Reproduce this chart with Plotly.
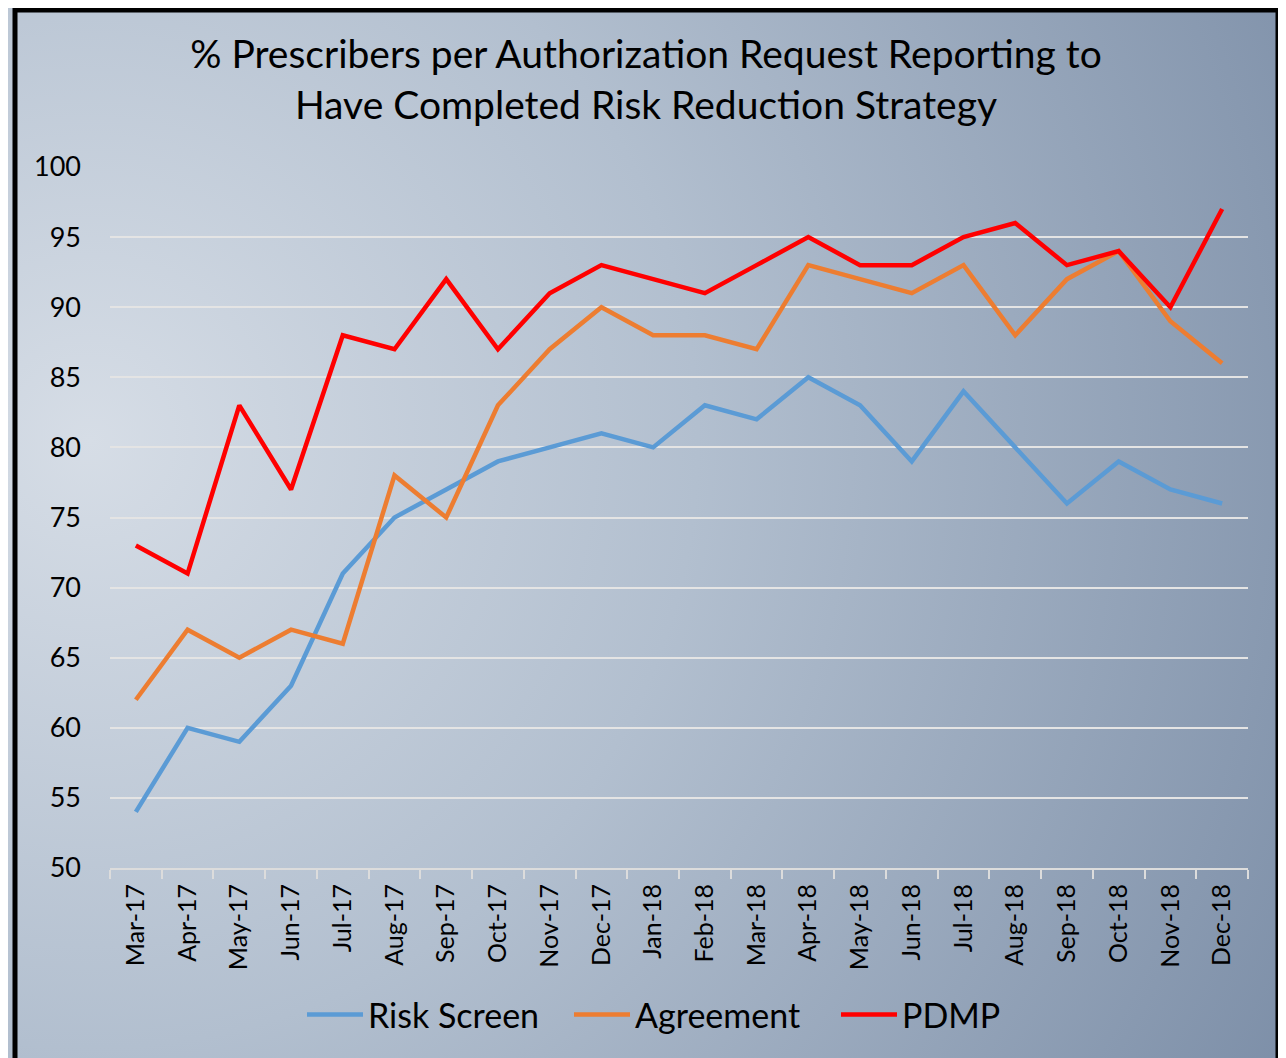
import base64
import plotly.graph_objects as go

months = ["Mar-17", "Apr-17", "May-17", "Jun-17", "Jul-17", "Aug-17", "Sep-17", "Oct-17",
          "Nov-17", "Dec-17", "Jan-18", "Feb-18", "Mar-18", "Apr-18", "May-18", "Jun-18",
          "Jul-18", "Aug-18", "Sep-18", "Oct-18", "Nov-18", "Dec-18"]
risk_screen = [54, 60, 59, 63, 71, 75, 77, 79, 80, 81, 80, 83, 82, 85, 83, 79, 84, 80, 76, 79, 77, 76]
agreement = [62, 67, 65, 67, 66, 78, 75, 83, 87, 90, 88, 88, 87, 93, 92, 91, 93, 88, 92, 94, 89, 86]
pdmp = [73, 71, 83, 77, 88, 87, 92, 87, 91, 93, 92, 91, 93, 95, 93, 93, 95, 96, 93, 94, 90, 97]
y_ticks = [50, 55, 60, 65, 70, 75, 80, 85, 90, 95, 100]

W, H = 1286, 1058
OFF = 8  # page body margin
# plot area in page pixels: x 110..1248, y 167..868
L = 110 - OFF
T = 167 - OFF
R = W - (1248 - OFF)
B = H - (868 - OFF)
pw, ph = W - L - R, H - T - B

FONT = "Lato"

fig = go.Figure()
series = [("Risk Screen", risk_screen, "#5B9BD5"),
          ("Agreement", agreement, "#ED7D31"),
          ("PDMP", pdmp, "#FF0000")]
for name, vals, col in series:
    fig.add_trace(go.Scatter(x=months, y=vals, mode="lines", name=name,
                             line=dict(color=col, width=4.5)))

svg = f'''<svg xmlns="http://www.w3.org/2000/svg" width="{W}" height="{H}" viewBox="0 0 {W} {H}" preserveAspectRatio="none">
<defs><radialGradient id="g" cx="90" cy="440" r="1350" gradientUnits="userSpaceOnUse">
<stop offset="0" stop-color="#d6dde6"/>
<stop offset="0.45" stop-color="#b2bfcf"/>
<stop offset="1" stop-color="#7d8fa8"/>
</radialGradient></defs>
<rect x="0" y="0" width="{W}" height="{H}" fill="url(#g)"/>
</svg>'''
src = "data:image/svg+xml;base64," + base64.b64encode(svg.encode()).decode()


def px_x(p):
    # page pixel -> paper x
    return (p - OFF - L) / pw


def px_y(p):
    return (H - B - (p - OFF)) / ph


fig.add_layout_image(dict(source=src, xref="paper", yref="paper",
                          x=px_x(0), y=px_y(0), sizex=W / pw, sizey=H / ph,
                          xanchor="left", yanchor="top", sizing="stretch", layer="below"))

shapes = []
shapes.append(dict(type="rect", xref="paper", yref="paper",
                   x0=px_x(15), x1=px_x(1278), y0=px_y(10), y1=px_y(1075),
                   line=dict(color="black", width=5), fillcolor="rgba(0,0,0,0)"))

fig.update_layout(
    width=W, height=H,
    margin=dict(l=L, r=R, t=T, b=B),
    paper_bgcolor="#c9d1dc",
    plot_bgcolor="rgba(0,0,0,0)",
    shapes=shapes,
    title=dict(text="% Prescribers per Authorization Request Reporting to<br>Have Completed Risk Reduction Strategy",
               x=(646 - OFF) / W, xanchor="center", y=1 - (68 - OFF) / H, yanchor="middle",
               font=dict(family=FONT, size=39, color="black")),
    font=dict(family=FONT, color="black"),
    showlegend=True,
    legend=dict(orientation="h", x=(302 - OFF) / W, xanchor="left", xref="container",
                y=1 - (1015 - OFF) / H, yref="container", yanchor="middle",
                font=dict(family=FONT, size=34, color="black"),
                bgcolor="rgba(0,0,0,0)", itemwidth=56,
                entrywidth=196, entrywidthmode="pixels"),
    xaxis=dict(type="category", tickangle=-90, tickfont=dict(size=25),
               showgrid=False, showline=True, linecolor="#dcdcdc", linewidth=2,
               ticks="outside", tickson="boundaries", ticklen=9, tickcolor="#dcdcdc",
               tickwidth=2, range=[-0.5, len(months) - 0.5], zeroline=False,
               ticklabelstandoff=4),
    yaxis=dict(range=[50, 100], tickvals=y_ticks, tickfont=dict(size=27),
               showgrid=True, gridcolor="#e4e4e4", gridwidth=1.5,
               zeroline=False, showline=False, ticks="", ticklabelstandoff=28),
)

fig.write_html("out.html")
